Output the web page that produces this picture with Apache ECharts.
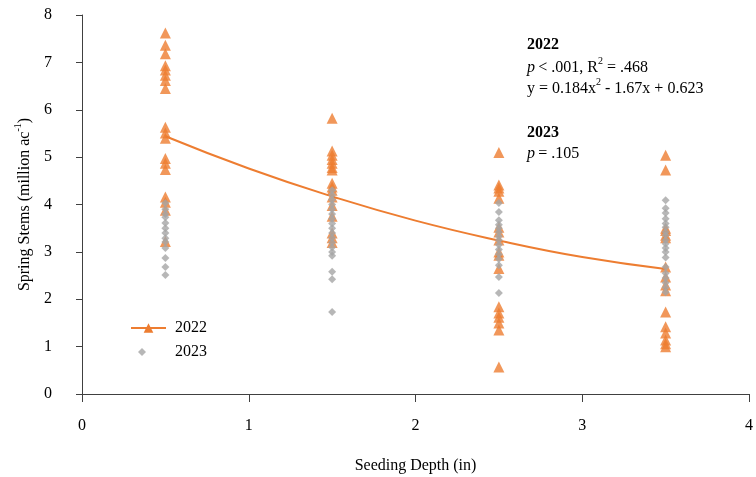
<!DOCTYPE html>
<html>
<head>
<meta charset="utf-8">
<script src="https://cdn.jsdelivr.net/npm/echarts@6/dist/echarts.min.js"></script>
<style>html,body{margin:0;padding:0;background:#fff;overflow:hidden}#c{width:756px;height:477px}</style>
</head>
<body>
<div id="c"></div>
<script>
// Seeding depths (in)
const depths = [0.5, 1.5, 2.5, 3.5];
// Spring stems (million ac^-1), 2022, per depth
const stems2022_d05 = [7.62, 7.36, 7.18, 6.93, 6.84, 6.73, 6.62, 6.45, 5.63, 5.51, 5.40, 4.97, 4.87, 4.74, 4.16, 4.05, 3.88, 3.22];
const stems2022_d15 = [5.82, 5.13, 5.04, 4.95, 4.87, 4.78, 4.73, 4.45, 4.37, 4.30, 4.16, 3.98, 3.75, 3.40, 3.30, 3.20];
const stems2022_d25 = [5.10, 4.41, 4.35, 4.28, 4.13, 3.52, 3.42, 3.25, 3.00, 2.93, 2.65, 1.84, 1.71, 1.62, 1.50, 1.35, 0.57];
const stems2022_d35 = [5.04, 4.73, 3.50, 3.45, 3.35, 3.30, 2.68, 2.47, 2.30, 2.18, 1.73, 1.42, 1.29, 1.14, 1.06, 1.00];
// Spring stems, 2023, per depth
const stems2023_d05 = [4.03, 3.90, 3.80, 3.73, 3.61, 3.50, 3.40, 3.29, 3.21, 3.08, 2.87, 2.68, 2.51];
const stems2023_d15 = [4.30, 4.20, 4.10, 4.00, 3.90, 3.80, 3.70, 3.60, 3.50, 3.40, 3.30, 3.20, 3.10, 3.00, 2.92, 2.58, 2.42, 1.73];
const stems2023_d25 = [4.03, 3.84, 3.67, 3.57, 3.50, 3.42, 3.33, 3.25, 3.15, 3.05, 2.95, 2.85, 2.72, 2.47, 2.13];
const stems2023_d35 = [4.09, 3.92, 3.82, 3.70, 3.60, 3.52, 3.42, 3.35, 3.25, 3.17, 3.08, 3.00, 2.88, 2.68, 2.55, 2.45, 2.35, 2.25, 2.15];
// 2022 quadratic trend
const trendX = [0.5, 1.0, 1.5, 2.0, 2.5, 3.0, 3.5];
const trendY = [5.44, 4.76, 4.17, 3.66, 3.24, 2.89, 2.64];
// Axis ticks
const xTicks = [0, 1, 2, 3, 4];
const yTicks = [0, 1, 2, 3, 4, 5, 6, 7, 8];

function pairs(groups) {
  const out = [];
  groups.forEach((g, i) => g.forEach(v => out.push([depths[i], v])));
  return out;
}
const data2022 = pairs([stems2022_d05, stems2022_d15, stems2022_d25, stems2022_d35]);
const data2023 = pairs([stems2023_d05, stems2023_d15, stems2023_d25, stems2023_d35]);
const trend = trendX.map((x, i) => [x, trendY[i]]);

const ORANGE = '#ED7D31', GRAY = '#A5A5A5', AX = '#404040';
const FONT = 'Liberation Serif';

const chart = echarts.init(document.getElementById('c'), null, {renderer: 'canvas'});
chart.setOption({
  animation: false,
  textStyle: {fontFamily: FONT},
  grid: {left: 82, right: 7, top: 15, bottom: 83, containLabel: false, outerBoundsMode: 'none'},
  xAxis: {
    type: 'value', min: xTicks[0], max: xTicks[xTicks.length - 1], interval: 1,
    axisLine: {lineStyle: {color: AX, width: 1}},
    axisTick: {show: true, length: 8, lineStyle: {color: AX}},
    axisLabel: {margin: 24, fontSize: 16, color: '#000', fontFamily: FONT},
    splitLine: {show: false},
    name: 'Seeding Depth (in)', nameLocation: 'middle', nameGap: 64,
    nameTextStyle: {fontSize: 16, color: '#000', fontFamily: FONT}
  },
  yAxis: {
    type: 'value', min: yTicks[0], max: yTicks[yTicks.length - 1], interval: 1,
    axisLine: {show: true, lineStyle: {color: AX, width: 1}},
    axisTick: {show: true, length: 6, lineStyle: {color: AX}},
    axisLabel: {margin: 30, fontSize: 16, color: '#000', fontFamily: FONT},
    splitLine: {show: false},
    name: '{a|Spring Stems (million ac}{s|-1}{a|)}', nameLocation: 'middle', nameGap: 49, nameRotate: 90,
    nameTextStyle: {
      fontFamily: FONT, color: '#000',
      rich: {
        a: {fontSize: 16, fontFamily: FONT, color: '#000', verticalAlign: 'bottom', lineHeight: 20},
        s: {fontSize: 10, fontFamily: FONT, color: '#000', verticalAlign: 'top', lineHeight: 20}
      }
    }
  },
  legend: [
    {
      data: ['2022'], left: 125, top: 315,
      itemWidth: 35, itemHeight: 12,
      textStyle: {fontSize: 16, fontFamily: FONT, color: '#000', padding: [0, 0, 0, 4]}
    },
    {
      data: [{name: '2023', icon: 'diamond'}], left: 133, top: 339,
      itemWidth: 8, itemHeight: 8,
      textStyle: {fontSize: 16, fontFamily: FONT, color: '#000', padding: [0, 0, 0, 24]}
    }
  ],
  series: [
    {
      name: '2022', type: 'line', data: trend, smooth: true, showSymbol: false,
      symbol: 'triangle', symbolSize: 11,
      lineStyle: {color: ORANGE, width: 2}, itemStyle: {color: ORANGE}, z: 3
    },
    {
      name: '2022', type: 'scatter', data: data2022, symbol: 'triangle', symbolSize: 11,
      itemStyle: {color: ORANGE}, z: 2
    },
    {
      name: '2023', type: 'scatter', data: data2023, symbol: 'diamond', symbolSize: 8,
      itemStyle: {color: GRAY}, z: 4
    }
  ],
  graphic: [
    {type: 'text', left: 527, top: 37, style: {text: '2022', font: 'bold 16px "Liberation Serif"', fill: '#000'}},
    {type: 'text', left: 527, top: 56, style: {
      text: '{i|p} {n|< .001, R}{s|2}{n| = .468}', fill: '#000',
      rich: {
        i: {font: 'italic 16px "Liberation Serif"', verticalAlign: 'bottom', lineHeight: 20},
        n: {font: '16px "Liberation Serif"', verticalAlign: 'bottom', lineHeight: 20},
        s: {font: '10px "Liberation Serif"', verticalAlign: 'top', lineHeight: 20}
      }}},
    {type: 'text', left: 527, top: 77, style: {
      text: '{n|y = 0.184x}{s|2}{n| - 1.67x + 0.623}', fill: '#000',
      rich: {
        n: {font: '16px "Liberation Serif"', verticalAlign: 'bottom', lineHeight: 20},
        s: {font: '10px "Liberation Serif"', verticalAlign: 'top', lineHeight: 20}
      }}},
    {type: 'text', left: 527, top: 125, style: {text: '2023', font: 'bold 16px "Liberation Serif"', fill: '#000'}},
    {type: 'text', left: 527, top: 146, style: {
      text: '{i|p} {n|= .105}', fill: '#000',
      rich: {
        i: {font: 'italic 16px "Liberation Serif"'},
        n: {font: '16px "Liberation Serif"'}
      }}}
  ]
});
</script>
</body>
</html>
